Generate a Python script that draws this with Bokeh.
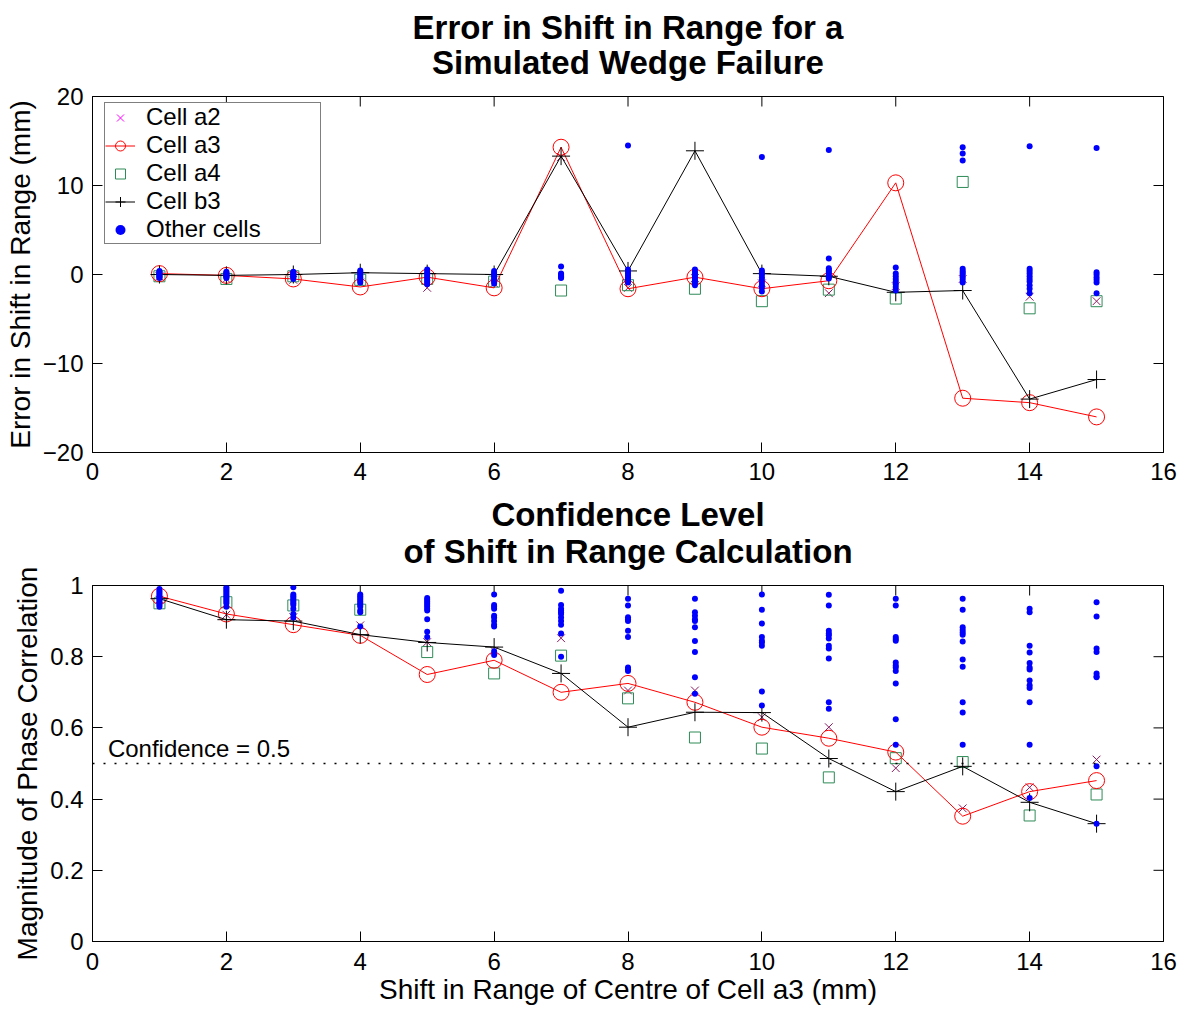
import math
from bokeh.plotting import figure
from bokeh.layouts import column
from bokeh.models import (Title, Span, Label, Legend, LegendItem, FixedTicker, Range1d)
from bokeh.embed import file_html
from bokeh.resources import INLINE

# ---------------- data ----------------
shift = [1, 2, 3, 4, 5, 6, 7, 8, 9, 10, 11, 12, 13, 14, 15]

# Error in shift in range (mm)
err_a2 = [-0.2, -0.5, -0.6, -0.9, -1.5, -1.0, 13.2, -1.5, -0.4, -1.0, -2.1, -1.3, -0.5, -2.5, -3.0]
err_a3 = [0.1, -0.1, -0.5, -1.4, -0.3, -1.5, 14.3, -1.6, -0.3, -1.6, -0.7, 10.3, -13.9, -14.4, -16.0]
err_a4 = [-0.2, -0.5, -0.2, -0.6, -0.5, -0.8, -1.8, -1.2, -1.6, -3.0, -1.7, -2.7, 10.4, -3.8, -3.0]
err_b3 = [0.0, -0.1, 0.0, 0.2, 0.1, 0.0, 13.3, 0.4, 13.9, 0.1, -0.2, -2.0, -1.8, -14.0, -11.8]
err_other = [
    [0.4, 0.3, 0.2, 0.1, 0.0, -0.1, -0.2, -0.3, -0.4],
    [0.3, 0.2, 0.1, 0.0, -0.1, -0.2, -0.3, -0.4],
    [0.3, 0.2, 0.1, 0.0, -0.1, -0.2, -0.3, -0.5],
    [0.45, 0.3, 0.1, -0.1, -0.3, -0.5, -0.7, -0.9],
    [0.55, 0.3, 0.1, -0.1, -0.3, -0.5, -0.7, -0.9, -1.1],
    [0.4, 0.2, 0.0, -0.2, -0.4, -0.6, -0.8, -1.0],
    [0.9, 0.1, 0.0, -0.1, -0.2, -0.3, -0.4],
    [14.5, 0.55, 0.3, 0.1, -0.1, -0.3, -0.5, -0.7, -0.9],
    [0.55, 0.3, 0.1, -0.1, -0.3, -0.5, -0.7, -0.9, -1.2],
    [13.2, 0.45, 0.2, 0.0, -0.3, -0.6, -0.9, -1.2, -1.5, -1.9],
    [14.0, 1.8, 0.7, 0.5, 0.3, 0.1, -0.1, -0.3, -0.45],
    [0.8, 0.1, -0.2, -0.5, -0.8, -1.1, -1.4, -1.8],
    [14.3, 13.6, 12.8, 0.65, 0.4, 0.2, 0.0, -0.3, -0.6, -0.9],
    [14.4, 0.65, 0.4, 0.1, -0.2, -0.5, -0.8, -1.2, -1.6, -2.1],
    [14.2, 0.25, 0.0, -0.3, -0.6, -0.9, -2.1],
]

# Magnitude of phase correlation
conf_a2 = [0.96, 0.918, 0.911, 0.888, 0.841, 0.817, 0.852, 0.705, 0.705, 0.63, 0.602, 0.487, 0.374, 0.433, 0.511]
conf_a3 = [0.97, 0.92, 0.89, 0.86, 0.75, 0.79, 0.70, 0.725, 0.672, 0.602, 0.571, 0.532, 0.352, 0.421, 0.452]
conf_a4 = [0.95, 0.953, 0.944, 0.932, 0.813, 0.753, 0.803, 0.683, 0.573, 0.542, 0.461, 0.515, 0.504, 0.354, 0.413]
conf_b3 = [0.963, 0.904, 0.90, 0.862, 0.84, 0.827, 0.753, 0.602, 0.644, 0.643, 0.514, 0.421, 0.492, 0.391, 0.331]
conf_other = [
    [0.99, 0.985, 0.98, 0.975, 0.97, 0.965, 0.96, 0.955, 0.95, 0.945, 0.94],
    [0.995, 0.99, 0.985, 0.98, 0.975, 0.97, 0.965, 0.96, 0.955, 0.95, 0.94],
    [0.995, 0.975, 0.97, 0.965, 0.96, 0.955, 0.95, 0.945, 0.935, 0.92, 0.91],
    [0.975, 0.97, 0.965, 0.96, 0.955, 0.95, 0.945, 0.94, 0.93, 0.925, 0.885],
    [0.965, 0.96, 0.955, 0.95, 0.945, 0.94, 0.935, 0.93, 0.905, 0.87, 0.855],
    [0.975, 0.945, 0.94, 0.935, 0.915, 0.91, 0.9, 0.89, 0.885, 0.815, 0.805],
    [0.985, 0.945, 0.935, 0.93, 0.925, 0.92, 0.91, 0.9, 0.89, 0.865, 0.80],
    [0.963, 0.944, 0.911, 0.905, 0.9, 0.873, 0.855, 0.77, 0.765, 0.76],
    [0.963, 0.925, 0.915, 0.905, 0.9, 0.883, 0.844, 0.813, 0.742, 0.696],
    [0.975, 0.932, 0.893, 0.855, 0.845, 0.84, 0.831, 0.702, 0.663],
    [0.974, 0.944, 0.873, 0.865, 0.86, 0.851, 0.831, 0.823, 0.795, 0.672, 0.654],
    [0.963, 0.944, 0.855, 0.85, 0.845, 0.784, 0.775, 0.77, 0.76, 0.725, 0.624, 0.553],
    [0.963, 0.932, 0.883, 0.875, 0.868, 0.862, 0.843, 0.792, 0.772, 0.672, 0.643, 0.553],
    [0.935, 0.925, 0.831, 0.812, 0.782, 0.77, 0.764, 0.733, 0.72, 0.712, 0.672, 0.553, 0.403],
    [0.953, 0.913, 0.823, 0.813, 0.753, 0.745, 0.742, 0.492, 0.331],
]
conf_threshold = 0.5

x_ticks = [0, 2, 4, 6, 8, 10, 12, 14, 16]
err_ticks = [-20, -10, 0, 10, 20]
conf_ticks = [0, 0.2, 0.4, 0.6, 0.8, 1.0]

FONT = "Liberation Sans"
C_A2 = "#8b1a62"
C_A2_LEG = "#ff00ff"
C_A3 = "#ff0000"
C_A4 = "#2e8b57"
C_B3 = "#000000"
C_OTHER = "#0000ff"


def flatten(groups):
    xs, ys = [], []
    for xv, grp in zip(shift, groups):
        for v in grp:
            xs.append(xv)
            ys.append(v)
    return xs, ys


def make_fig(height, top_border, bottom_border, yr, yticks, title_lines, title_standoffs,
             ylabel, xlabel=None):
    p = figure(width=1180, height=height, output_backend="svg", toolbar_location=None,
               x_range=Range1d(0, 16), y_range=Range1d(*yr),
               min_border_left=92, min_border_right=17,
               min_border_top=top_border, min_border_bottom=bottom_border,
               background_fill_color="white", border_fill_color="white")
    p.title.visible = False
    p.xgrid.visible = False
    p.ygrid.visible = False
    p.outline_line_color = "black"
    p.outline_line_width = 1

    for ax in (p.xaxis[0], p.yaxis[0]):
        ax.major_tick_in = 10
        ax.major_tick_out = 0
        ax.minor_tick_line_color = None
        ax.axis_line_color = "black"
        ax.major_tick_line_color = "black"
        ax.major_label_text_font = FONT
        ax.major_label_text_font_size = "24px"
        ax.major_label_text_color = "black"
        ax.axis_label_text_font = FONT
        ax.axis_label_text_font_size = "28px"
        ax.axis_label_text_font_style = "normal"
        ax.axis_label_text_color = "black"
    p.xaxis[0].ticker = FixedTicker(ticks=x_ticks)
    p.yaxis[0].ticker = FixedTicker(ticks=yticks)
    p.yaxis[0].major_label_standoff = 9
    p.yaxis[0].axis_label = ylabel
    p.yaxis[0].axis_label_standoff = 4
    if xlabel:
        p.xaxis[0].axis_label = xlabel
        p.xaxis[0].major_label_standoff = 11
        p.xaxis[0].axis_label_standoff = 1
    else:
        p.xaxis[0].major_label_standoff = 10
        p.xaxis[0].axis_label_standoff = 0

    # inward ticks on the top and right edges of the box (clipped to the frame)
    p.scatter(x_ticks, [yr[1]] * len(x_ticks), marker="dash", angle=math.pi / 2,
              size=20, line_color="black", line_width=1)
    p.scatter([16] * len(yticks), yticks, marker="dash", size=20,
              line_color="black", line_width=1)

    for line, so in reversed(list(zip(title_lines, title_standoffs))):
        p.add_layout(Title(text=line, align="center", text_font=FONT, text_font_size="33px",
                           text_font_style="bold", text_color="black", standoff=so), "above")
    return p


# ---------------- top plot ----------------
p1 = make_fig(492, 96, 40, (-20, 20), err_ticks,
              ["Error in Shift in Range for a", "Simulated Wedge Failure"], [-38, 31],
              "Error in Shift in Range (mm)")

r_a2 = p1.scatter(shift, err_a2, marker="x", size=11, line_color=C_A2, line_width=1)
r_a2_leg = p1.scatter([float("nan")], [float("nan")], marker="x", size=11,
                      line_color=C_A2_LEG, line_width=1)
r_a4 = p1.scatter(shift, err_a4, marker="square", size=11, line_color=C_A4, fill_color=None, line_width=1)
r_a3l = p1.line(shift, err_a3, line_color=C_A3, line_width=1)
r_a3m = p1.scatter(shift, err_a3, marker="circle", size=16, line_color=C_A3, fill_color=None, line_width=1)
r_b3l = p1.line(shift, err_b3, line_color=C_B3, line_width=1)
r_b3m = p1.scatter(shift, err_b3, marker="cross", size=18, line_color=C_B3, line_width=1)
ox, oy = flatten(err_other)
r_oth = p1.scatter(ox, oy, marker="circle", size=6, fill_color=C_OTHER, line_color=None)

legend = Legend(items=[
    LegendItem(label="Cell a2", renderers=[r_a2_leg]),
    LegendItem(label="Cell a3", renderers=[r_a3l, r_a3m]),
    LegendItem(label="Cell a4", renderers=[r_a4]),
    LegendItem(label="Cell b3", renderers=[r_b3l, r_b3m]),
    LegendItem(label="Other cells", renderers=[r_oth]),
], location=(12, 208))
legend.border_line_color = "black"
legend.border_line_width = 1
legend.background_fill_color = "white"
legend.background_fill_alpha = 1
legend.label_text_font = FONT
legend.label_text_font_size = "24px"
legend.label_text_line_height = 1.1
legend.label_text_color = "black"
legend.label_height = 25
legend.glyph_height = 25
legend.glyph_width = 30
legend.label_width = 174
legend.label_standoff = 11
legend.spacing = 0
legend.padding = 0
legend.margin = 0
p1.add_layout(legend)

# ---------------- bottom plot ----------------
p2 = make_fig(520, 93, 71, (0, 1), conf_ticks,
              ["Confidence Level", "of Shift in Range Calculation"], [-37, 32],
              "Magnitude of Phase Correlation",
              xlabel="Shift in Range of Centre of Cell a3 (mm)")
p2.yaxis[0].major_label_overrides = {0: "0", 1: "1"}

p2.add_layout(Span(location=conf_threshold, dimension="width", line_color="black",
                   line_width=1.5, line_dash="2 9"))
p2.add_layout(Label(x=0.23, y=conf_threshold, y_offset=2, text=f"Confidence = {conf_threshold}",
                    text_font=FONT, text_font_size="24px", text_color="black",
                    text_baseline="bottom"))

p2.scatter(shift, conf_a2, marker="x", size=11, line_color=C_A2, line_width=1)
p2.scatter(shift, conf_a4, marker="square", size=11, line_color=C_A4, fill_color=None, line_width=1)
p2.line(shift, conf_a3, line_color=C_A3, line_width=1)
p2.scatter(shift, conf_a3, marker="circle", size=16, line_color=C_A3, fill_color=None, line_width=1)
p2.line(shift, conf_b3, line_color=C_B3, line_width=1)
p2.scatter(shift, conf_b3, marker="cross", size=18, line_color=C_B3, line_width=1)
cx, cy = flatten(conf_other)
p2.scatter(cx, cy, marker="circle", size=6, fill_color=C_OTHER, line_color=None)

layout = column(p1, p2, spacing=0)
open("out.html", "w").write(file_html(layout, INLINE))
